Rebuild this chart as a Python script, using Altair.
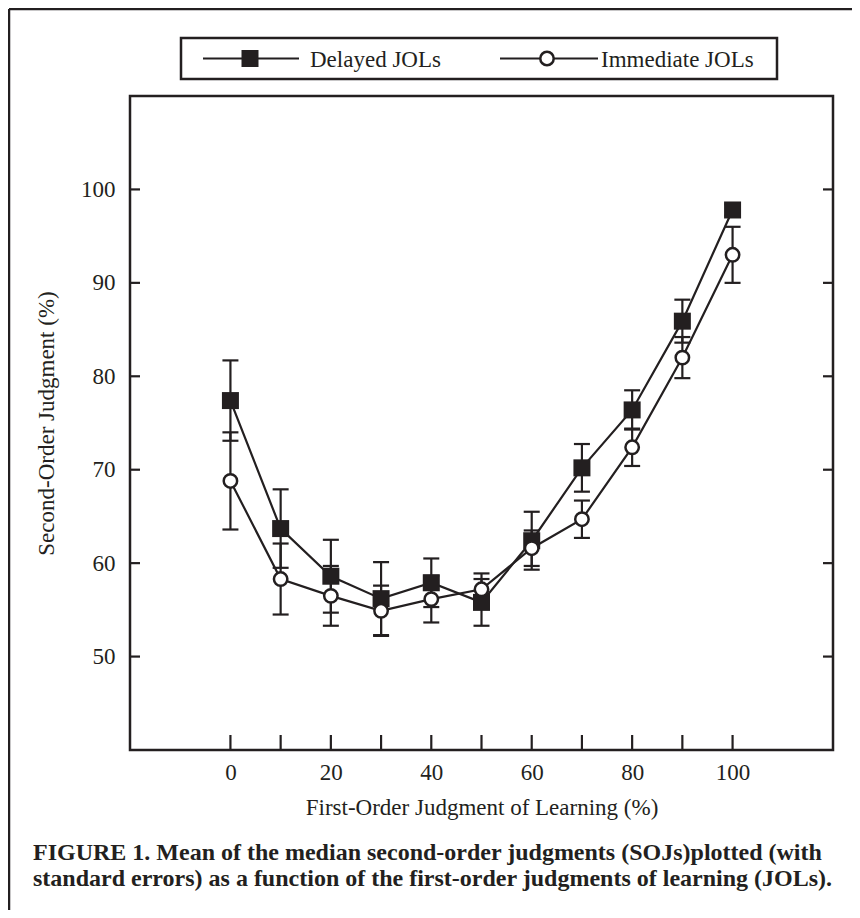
import altair as alt
import pandas as pd

# ---- data ----
jol_levels = [0, 10, 20, 30, 40, 50, 60, 70, 80, 90, 100]
delayed_mean = [77.4, 63.7, 58.6, 56.2, 57.9, 55.8, 62.4, 70.2, 76.4, 85.9, 97.8]
delayed_se = [4.3, 4.2, 3.9, 3.9, 2.6, 2.5, 3.1, 2.55, 2.1, 2.3, 0.6]
immediate_mean = [68.8, 58.3, 56.5, 54.9, 56.15, 57.2, 61.6, 64.7, 72.4, 82.0, 93.0]
immediate_se = [5.2, 3.8, 3.2, 2.7, 2.5, 1.7, 1.9, 2.0, 2.0, 2.2, 3.0]

y_tick_values = [50, 60, 70, 80, 90, 100]
x_tick_values = [0, 10, 20, 30, 40, 50, 60, 70, 80, 90, 100]
x_label_values = [0, 20, 40, 60, 80, 100]

series_names = ["Delayed JOLs", "Immediate JOLs"]
caption_lines = [
    "FIGURE 1. Mean of the median second-order judgments (SOJs)plotted (with",
    "standard errors) as a function of the first-order judgments of learning (JOLs).",
]

INK = "#231f20"
FONT = "Liberation Serif"
W, H = 703, 654

rows = []
for name, means, ses in [(series_names[0], delayed_mean, delayed_se),
                         (series_names[1], immediate_mean, immediate_se)]:
    for x, m, s in zip(jol_levels, means, ses):
        rows.append({"series": name, "x": x, "mean": m, "lo": m - s, "hi": m + s})
df = pd.DataFrame(rows)

xscale = alt.Scale(domain=[-20, 120], nice=False, zero=False)
yscale = alt.Scale(domain=[40, 110], nice=False, zero=False)

xaxis = alt.Axis(values=x_label_values, tickSize=0, ticks=False, domain=False, grid=False,
                 labelPadding=11, titlePadding=12, labelFontSize=23, titleFontSize=23,
                 labelFont=FONT, titleFont=FONT, labelColor=INK, titleColor=INK,
                 titleFontWeight="normal", title="First-Order Judgment of Learning (%)")
yaxis = alt.Axis(values=y_tick_values, tickSize=0, ticks=False, domain=False, grid=False,
                 labelPadding=15, titlePadding=22, labelFontSize=23, titleFontSize=23,
                 labelFont=FONT, titleFont=FONT, labelColor=INK, titleColor=INK,
                 titleFontWeight="normal", title="Second-Order Judgment (%)")


def X(field):
    return alt.X(f"{field}:Q", scale=xscale, axis=xaxis)


def Y(field):
    return alt.Y(f"{field}:Q", scale=yscale, axis=yaxis)


base = alt.Chart(df)

err_rules = base.mark_rule(color=INK, strokeWidth=2.2).encode(
    x=X("x"), y=Y("lo"), y2="hi")
caps_lo = base.mark_tick(orient="horizontal", color=INK, size=16, thickness=2.2, opacity=1).encode(
    x=X("x"), y=Y("lo"))
caps_hi = base.mark_tick(orient="horizontal", color=INK, size=16, thickness=2.2, opacity=1).encode(
    x=X("x"), y=Y("hi"))
lines = base.mark_line(color=INK, strokeWidth=2.2).encode(
    x=X("x"), y=Y("mean"), detail="series:N", order="x:Q")
squares = base.transform_filter(alt.datum.series == series_names[0]).mark_point(
    shape="square", filled=True, color=INK, size=289, opacity=1).encode(x=X("x"), y=Y("mean"))
circles = base.transform_filter(alt.datum.series == series_names[1]).mark_point(
    shape="circle", filled=True, fill="white", stroke=INK, strokeWidth=2.5, size=180, opacity=1
).encode(x=X("x"), y=Y("mean"))

yt = alt.Chart(pd.DataFrame({"v": y_tick_values}))
ytick_left = yt.mark_rule(color=INK, strokeWidth=2.2).encode(
    y=Y("v"), x=alt.value(0), x2=alt.value(10))
ytick_right = yt.mark_rule(color=INK, strokeWidth=2.2).encode(
    y=Y("v"), x=alt.value(W - 10), x2=alt.value(W))
xt = alt.Chart(pd.DataFrame({"v": x_tick_values}))
xtick = xt.mark_rule(color=INK, strokeWidth=2.2).encode(
    x=X("v"), y=alt.value(H - 15), y2=alt.value(H))

one = alt.Chart(pd.DataFrame({"a": [0]}))
LY = -37.5
legend_box = one.mark_rect(fill="white", stroke=INK, strokeWidth=2.5).encode(
    x=alt.value(51), x2=alt.value(647), y=alt.value(-58), y2=alt.value(-17))
leg_line1 = one.mark_rule(color=INK, strokeWidth=2.2).encode(
    x=alt.value(73), x2=alt.value(169), y=alt.value(LY))
leg_sq = one.mark_point(shape="square", filled=True, color=INK, size=289, opacity=1).encode(
    x=alt.value(120), y=alt.value(LY))
leg_txt1 = one.mark_text(align="left", baseline="middle", font=FONT, fontSize=23, color=INK).encode(
    x=alt.value(180), y=alt.value(LY + 1), text=alt.value(series_names[0]))
leg_line2 = one.mark_rule(color=INK, strokeWidth=2.2).encode(
    x=alt.value(370), x2=alt.value(468), y=alt.value(LY))
leg_ci = one.mark_point(shape="circle", filled=True, fill="white", stroke=INK, strokeWidth=2.5,
                        size=180, opacity=1).encode(x=alt.value(417), y=alt.value(LY))
leg_txt2 = one.mark_text(align="left", baseline="middle", font=FONT, fontSize=23, color=INK).encode(
    x=alt.value(471), y=alt.value(LY + 1), text=alt.value(series_names[1]))

frame_left = one.mark_rule(color=INK, strokeWidth=2.5).encode(
    x=alt.value(-121), y=alt.value(-87), y2=alt.value(814))
frame_top = one.mark_rule(color=INK, strokeWidth=2.5).encode(
    x=alt.value(-121), x2=alt.value(722), y=alt.value(-87))

cap1 = one.mark_text(align="left", baseline="middle", font=FONT, fontSize=24, fontWeight="bold",
                     color=INK).encode(x=alt.value(-97), y=alt.value(757), text=alt.value(caption_lines[0]))
cap2 = one.mark_text(align="left", baseline="middle", font=FONT, fontSize=24, fontWeight="bold",
                     color=INK).encode(x=alt.value(-97), y=alt.value(783), text=alt.value(caption_lines[1]))

chart = alt.layer(
    err_rules, caps_lo, caps_hi, lines, squares, circles,
    ytick_left, ytick_right, xtick,
    legend_box, leg_line1, leg_sq, leg_txt1, leg_line2, leg_ci, leg_txt2,
    frame_left, frame_top, cap1, cap2,
).properties(
    width=W, height=H,
    autosize=alt.AutoSizeParams(type="none"),
    padding={"left": 122, "top": 88, "right": 19, "bottom": 160},
    background="white",
).configure_view(stroke=INK, strokeWidth=2.5)

chart.save("out.html", embed_options={"renderer": "svg", "actions": False})
